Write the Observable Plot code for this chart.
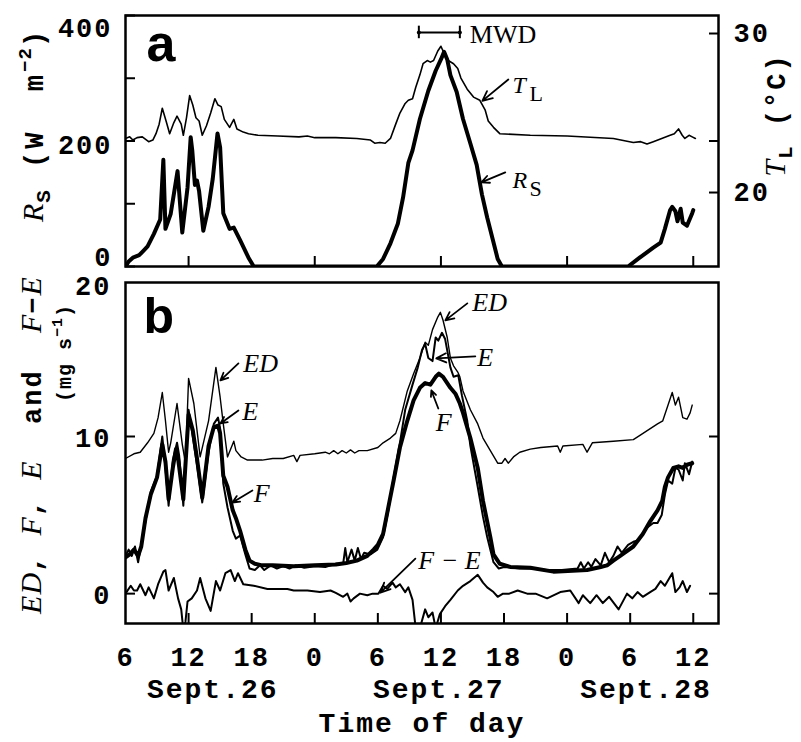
<!DOCTYPE html>
<html>
<head>
<meta charset="utf-8">
<script src="https://cdn.jsdelivr.net/npm/d3@7"></script>
<script src="https://cdn.jsdelivr.net/npm/@observablehq/plot@0.6"></script>
<style>
  body { margin: 0; background: #fff; }
  #wrap { position: relative; width: 801px; height: 742px; overflow: hidden; background: #fff; }
  #wrap svg { position: absolute; left: 0; }
  svg g[aria-label="x-axis tick label"], svg g[aria-label="y-axis tick label"], svg g[aria-description="mono"] { letter-spacing: 2px; }
  .ttl { position: absolute; white-space: nowrap; transform: translate(-50%, -50%) rotate(-90deg);
         font-family: "Liberation Mono"; font-weight: bold; font-size: 27px; letter-spacing: 2px; line-height: 1; color: #000; }
  .ttl i { font-family: "Liberation Serif"; font-style: italic; font-weight: normal; font-size: 30px; letter-spacing: 1px; }
  .ttl .sub { font-size: 21px; vertical-align: -7px; }
  .ttl .sup { font-size: 19px; vertical-align: 12px; letter-spacing: 1px; }
  .ttl.wide { letter-spacing: 3px; }
  .ttl.small { font-size: 20px; letter-spacing: 1px; }
  .ttl.small .sup { font-size: 15px; vertical-align: 9px; }
</style>
</head>
<body>
<div id="wrap"></div>
<script>
// ---------- axes / ticks ----------
const xDomain = [6, 62.4];
const hourTicksA = [12, 24, 36, 48, 60];
const hourTicksB = [6, 12, 18, 24, 30, 36, 42, 48, 54, 60];
const rsTicks = [0, 100, 200, 300, 400];
const tlTicks = [20, 30];
const fluxTicks = [0, 10];
const dayLabels = ["Sept.26", "Sept.27", "Sept.28"];
const dayCenters = [14.3, 35.8, 55.5];

// ---------- panel a: solar radiation Rs (W m-2) ----------
const rs = [[6.0,0],[6.3,8],[6.7,14],[7.3,18],[7.7,25],[8.1,32],[8.7,52],[9.3,75],[9.6,170],[9.8,60],[10.3,84],[10.95,152],[11.4,54],[11.9,126],[12.2,206],[12.35,185],[12.6,130],[12.8,137],[13.0,120],[13.4,57],[13.9,95],[14.3,140],[14.75,212],[15.0,190],[15.2,120],[15.3,85],[15.9,60],[16.3,62],[16.9,42],[17.7,14],[18.2,0],
  [29.9,0],[30.5,12],[31.2,37],[31.9,68],[32.4,110],[32.9,165],[33.3,185],[34.0,235],[34.8,280],[35.5,312],[36.0,330],[36.3,342],[36.6,330],[36.9,305],[37.5,278],[38.1,235],[38.8,196],[39.4,162],[39.9,115],[40.4,78],[40.9,45],[41.4,12],[41.8,0],
  [53.8,0],[54.9,14],[56.2,30],[56.9,38],[57.3,60],[57.8,90],[58.0,95],[58.3,88],[58.5,72],[58.8,92],[59.0,70],[59.4,65],[59.9,85],[60.0,90]];

// ---------- panel a: leaf temperature TL (deg C) ----------
const tl = [[6.0,23.4],[6.4,23.5],[6.7,23.3],[7.1,23.45],[7.6,23.5],[8.2,23.2],[8.6,23.3],[8.9,23.7],[9.2,24.3],[9.5,25.3],[9.9,24.4],[10.2,23.7],[10.6,24.4],[10.9,24.8],[11.3,24.3],[11.5,23.6],[11.8,24.7],[12.1,26.1],[12.4,25.5],[12.7,24.7],[13.0,24.5],[13.3,23.6],[13.7,24.2],[14.1,25.0],[14.5,25.9],[14.8,25.5],[15.1,25.4],[15.4,24.6],[15.9,24.1],[16.3,24.6],[16.6,24.0],[17.2,23.8],[17.7,23.7],[18.6,23.6],[20.5,23.55],[22.5,23.5],[23.3,23.55],[24.0,23.45],[26.0,23.45],[28.0,23.4],[29.3,23.3],[29.7,23.1],[30.2,23.15],[30.7,23.1],[31.2,23.4],[31.7,24.3],[32.1,25.0],[32.6,25.6],[32.9,25.8],[33.3,25.9],[33.6,26.6],[34.0,27.4],[34.3,28.1],[34.7,28.3],[35.0,28.2],[35.3,28.3],[35.7,28.9],[36.0,29.2],[36.2,28.9],[36.7,28.3],[37.2,28.1],[37.6,27.8],[37.9,27.2],[38.5,26.5],[39.1,26.0],[39.7,25.8],[40.2,25.2],[40.5,24.5],[41.0,24.1],[41.6,23.7],[44.5,23.6],[48.0,23.55],[52.4,23.4],[54.3,23.15],[55.0,23.2],[55.6,23.05],[56.2,23.2],[57.0,23.4],[57.8,23.6],[58.2,23.7],[58.6,24.0],[58.95,23.6],[59.2,23.4],[59.6,23.6],[59.9,23.5],[60.2,23.4]];

// ---------- panel b: fluxes (mg s-1) ----------
const ed = [[6.0,8.6],[6.8,8.9],[7.4,9.0],[8.1,9.6],[8.7,10.2],[9.1,11.2],[9.5,12.8],[9.8,11.0],[10.1,9.0],[10.3,9.6],[10.9,12.1],[11.4,9.5],[11.7,8.3],[12.0,13.7],[12.5,12.1],[13.1,8.7],[13.9,11.0],[14.6,14.4],[15.0,12.5],[15.3,10.8],[15.7,8.7],[16.3,9.7],[16.5,9.1],[17.0,8.7],[17.6,8.5],[18.2,8.5],[19.0,8.5],[20.0,8.6],[21.0,8.6],[22.0,8.8],[22.3,8.4],[22.6,8.8],[24.0,8.9],[25.0,9.0],[25.4,8.9],[25.8,9.1],[26.2,8.9],[26.6,9.1],[27.0,8.95],[27.4,9.15],[27.8,8.95],[28.2,9.1],[29.0,9.1],[30.0,9.3],[30.5,9.6],[31.2,9.9],[31.7,10.2],[32.1,11.0],[32.8,12.9],[33.4,14.0],[34.0,15.0],[34.5,16.0],[34.8,15.8],[35.2,16.8],[35.7,17.6],[35.95,17.9],[36.2,17.4],[36.6,16.3],[36.9,15.0],[37.2,14.5],[37.6,14.1],[37.8,13.8],[38.1,12.9],[38.8,11.7],[39.5,10.8],[40.0,9.9],[40.7,9.1],[41.4,8.3],[41.8,8.3],[42.1,8.6],[42.4,8.3],[42.9,8.7],[43.5,9.0],[44.5,9.2],[45.5,9.3],[47.1,9.4],[47.35,9.0],[47.6,9.4],[49.5,9.5],[49.9,9.0],[50.4,9.6],[52.4,9.7],[54.3,9.8],[55.0,10.1],[56.6,10.8],[57.1,11.0],[58.0,12.8],[58.3,12.0],[58.6,12.5],[59.0,11.2],[59.4,11.1],[59.7,11.5],[59.9,12.0]];

const e = [[6.0,2.4],[6.3,2.8],[6.6,2.4],[6.9,3.0],[7.2,2.0],[7.5,3.1],[7.9,4.6],[8.4,6.5],[9.0,7.5],[9.5,10.0],[9.8,8.0],[10.1,5.6],[10.5,8.5],[10.9,9.6],[11.1,8.8],[11.5,5.6],[12.0,11.7],[12.4,10.0],[12.8,8.2],[13.3,5.8],[13.9,9.0],[14.4,10.8],[14.8,11.2],[15.0,10.5],[15.3,7.0],[15.7,5.5],[16.2,4.0],[16.5,3.5],[16.9,3.7],[17.4,2.5],[17.8,1.6],[18.3,1.5],[18.8,1.8],[19.2,1.5],[19.8,1.8],[20.4,1.6],[21.0,1.75],[21.6,1.6],[22.2,1.8],[23.0,1.65],[24.0,1.75],[25.0,1.7],[26.0,1.9],[26.7,1.9],[26.9,2.9],[27.1,2.0],[27.5,2.8],[27.8,2.1],[28.1,2.9],[28.4,2.2],[28.7,2.6],[29.3,2.5],[29.95,2.8],[30.5,3.6],[31.0,5.3],[31.5,7.4],[32.1,9.6],[32.6,11.7],[33.3,13.3],[33.8,14.4],[34.2,15.5],[34.5,15.9],[34.8,15.0],[35.2,14.8],[35.5,16.3],[35.75,16.1],[36.1,16.6],[36.4,16.2],[36.9,14.4],[37.2,13.8],[37.65,13.9],[38.0,12.6],[38.5,11.0],[38.8,9.4],[39.5,6.8],[40.0,4.9],[40.4,3.6],[40.7,2.8],[41.0,2.0],[41.5,1.6],[42.0,1.7],[43.5,1.6],[44.5,1.6],[46.0,1.5],[47.5,1.5],[49.0,1.6],[49.3,2.0],[49.6,1.6],[50.0,2.0],[50.3,1.7],[50.7,2.2],[51.2,1.8],[51.6,2.6],[52.0,2.0],[52.4,2.4],[52.8,3.0],[53.2,2.6],[53.8,3.1],[54.3,3.3],[54.8,3.4],[55.6,4.2],[56.2,4.5],[56.6,4.5],[57.0,5.0],[57.3,6.3],[57.6,7.2],[58.0,7.0],[58.3,8.0],[58.6,7.9],[59.0,7.2],[59.2,8.3],[59.6,7.6],[59.9,8.4]];

const f = [[6.0,2.3],[6.4,2.5],[6.8,2.8],[7.2,2.4],[7.5,3.0],[7.9,4.8],[8.4,6.3],[9.0,7.4],[9.5,9.5],[9.8,8.4],[10.1,6.0],[10.5,8.0],[10.8,9.2],[11.0,8.6],[11.5,6.0],[12.0,11.4],[12.4,10.4],[12.8,8.6],[13.3,6.1],[13.9,9.4],[14.4,10.6],[14.8,10.7],[15.0,10.2],[15.3,7.5],[15.7,6.8],[16.2,5.3],[16.5,4.8],[16.9,4.0],[17.4,2.8],[17.8,2.1],[18.3,1.9],[19.0,1.8],[20.0,1.8],[22.0,1.75],[24.0,1.8],[26.0,1.85],[27.0,1.95],[28.0,2.1],[29.0,2.4],[29.6,2.8],[30.0,3.1],[30.5,3.8],[31.0,5.5],[31.5,7.2],[32.1,9.3],[32.8,11.0],[33.4,12.3],[34.0,13.1],[34.5,13.4],[35.0,13.3],[35.5,13.8],[35.8,14.0],[36.2,13.8],[36.9,13.1],[37.4,12.7],[37.8,12.1],[38.1,11.5],[38.8,9.9],[39.5,8.0],[40.0,5.9],[40.7,3.6],[41.0,2.5],[41.6,1.9],[42.6,1.7],[44.5,1.65],[46.7,1.4],[49.9,1.5],[51.2,1.7],[51.8,1.8],[52.4,2.1],[53.05,2.4],[54.3,3.0],[55.2,3.8],[55.9,4.6],[56.6,5.3],[57.05,5.9],[57.3,6.8],[57.6,7.4],[58.1,8.0],[58.6,8.1],[59.0,8.0],[59.4,8.2],[59.9,8.3]];

const fMinusE = [[6.0,0.0],[6.5,0.5],[6.8,0.2],[7.1,0.2],[7.4,0.6],[7.9,-0.1],[8.2,0.4],[8.7,-0.3],[9.1,0.6],[9.6,1.4],[9.8,1.5],[10.1,0.2],[10.6,1.0],[11.0,-0.3],[11.3,-1.0],[11.5,-2.3],[11.7,-1.8],[11.9,-0.5],[12.3,-0.3],[12.8,0.2],[13.1,1.0],[13.6,-0.3],[14.1,-1.1],[14.6,0.8],[15.0,0.2],[15.5,1.3],[16.0,1.5],[16.4,0.8],[16.7,1.3],[17.2,0.6],[18.2,0.5],[19.5,0.3],[21.4,0.3],[22.0,0.2],[23.3,0.2],[24.5,0.1],[25.5,0.2],[26.0,0.05],[26.7,-0.2],[27.1,0.0],[27.4,-0.5],[27.7,-0.3],[28.3,0.0],[29.0,-0.1],[29.5,0.0],[30.05,0.0],[30.5,0.5],[30.9,0.3],[31.4,0.7],[31.7,0.4],[32.1,0.6],[32.6,0.1],[32.9,0.4],[33.3,-0.4],[33.6,-2.2],[34.0,-2.2],[34.5,-1.0],[34.8,-1.5],[35.2,-1.2],[35.5,-2.2],[35.9,-1.3],[36.4,-0.8],[36.9,-0.4],[37.6,0.2],[38.1,0.5],[38.8,0.8],[39.5,1.2],[39.7,1.0],[40.0,0.7],[40.4,0.4],[41.0,0.1],[41.4,-0.2],[41.9,0.0],[42.5,0.0],[43.3,0.2],[44.2,0.0],[45.0,0.0],[46.1,-0.3],[47.35,0.1],[48.3,0.2],[49.1,-0.6],[49.5,-0.1],[50.2,-0.6],[50.8,-0.1],[51.4,-0.6],[52.0,-0.2],[52.9,-1.0],[53.7,0.0],[54.2,-0.3],[54.7,0.1],[55.2,-0.2],[55.9,0.1],[56.4,0.3],[56.9,0.8],[57.3,0.5],[58.0,1.3],[58.3,0.1],[58.7,0.4],[59.0,0.8],[59.4,0.1],[59.7,0.5]];

// ---------- annotations (data coordinates) ----------
const calloutsA = [
  {label: "T", sub: "L", h: 42.8, v: 288, h0: 42.41, v0: 298, h1: 39.94, v1: 264},
  {label: "R", sub: "S", h: 42.8, v: 137, h0: 42.12, v0: 150, h1: 39.84, v1: 134}
];
const mwd = [{start: 33.9, end: 37.8, level: 373, label: "MWD"}];
const calloutsB = [
  {label: "ED", h: 17.2, v: 14.65, h0: 16.74, v0: 14.65, h1: 15.03, v1: 13.57},
  {label: "E", h: 17.1, v: 11.6, h0: 16.74, v0: 11.66, h1: 15.03, v1: 10.83},
  {label: "F", h: 18.2, v: 6.37, h0: 18.07, v0: 6.56, h1: 16.17, v1: 5.8},
  {label: "ED", h: 38.98, v: 18.5, h0: 38.51, v0: 18.47, h1: 36.42, v1: 17.39},
  {label: "E", h: 39.46, v: 15.0, h0: 39.27, v0: 15.1, h1: 35.56, v1: 14.97},
  {label: "F", h: 35.5, v: 10.9, h0: 35.75, v0: 11.78, h1: 35.09, v1: 12.93},
  {label: "F − E", h: 33.85, v: 2.1, h0: 33.57, v0: 2.23, h1: 30.24, v1: 0.06}
];

// ---------- helpers ----------
const rsEq = t => 117.9 + 25.34 * (t - 20);   // right-axis TL mapped to Rs scale
const tlOf = r => (r - 117.9) / 25.34 + 20;
const H = d => d[0], V = d => d[1];
const blank = () => "";
const baseStyle = {fontFamily: "Liberation Mono", fontWeight: "bold", fontSize: "27px", color: "black", background: "white", overflow: "visible"};
const serifIt = {fontFamily: "Liberation Serif", fontStyle: "italic", fontWeight: "normal"};

const wrap = document.getElementById("wrap");

// ---------- panel a ----------
const plotA = Plot.plot({
  width: 801, height: 272,
  marginLeft: 125, marginRight: 83, marginTop: 15, marginBottom: 6,
  x: {domain: xDomain, axis: null},
  y: {domain: [0, 400], axis: null},
  style: baseStyle,
  marks: [
    Plot.axisX({ticks: hourTicksA, tickSize: -10, tickFormat: blank, strokeWidth: 2, label: null}),
    Plot.axisY({anchor: "left", ticks: rsTicks, tickSize: -10, tickFormat: blank, strokeWidth: 2, label: null}),
    Plot.axisY({anchor: "right", ticks: [...tlTicks.map(rsEq), 200], tickSize: -10, tickFormat: blank, strokeWidth: 2, label: null}),
    Plot.axisY({anchor: "left", ticks: [rsTicks[0]], tickSize: 0, tickPadding: 13, dy: -9, label: null}),
    Plot.axisY({anchor: "left", ticks: [rsTicks[2]], tickSize: 0, tickPadding: 13, dy: 4, label: null}),
    Plot.axisY({anchor: "left", ticks: [rsTicks[4]], tickSize: 0, tickPadding: 13, dy: 13, label: null}),
    Plot.axisY({anchor: "right", ticks: tlTicks.map(rsEq), tickSize: 0, tickPadding: 15, label: null,
                tickFormat: d => String(Math.round(tlOf(d)))}),
    Plot.line(tl, {x: H, y: d => rsEq(d[1]), stroke: "black", strokeWidth: 1.6, clip: true}),
    Plot.line(rs, {x: H, y: V, stroke: "black", strokeWidth: 4, strokeLinejoin: "round", clip: true}),
    Plot.frame({stroke: "black", strokeWidth: 2.5}),
    // panel letter
    Plot.text(["a"], {frameAnchor: "top-left", dx: 21, dy: 29, textAnchor: "start", lineAnchor: "middle",
                      fontFamily: "Liberation Sans", fontWeight: "bold", fontSize: 52}),
    // callouts
    Plot.arrow(calloutsA, {x1: "h0", y1: "v0", x2: "h1", y2: "v1", stroke: "black", strokeWidth: 1.8, headLength: 9, headAngle: 50}),
    Plot.text(calloutsA, {x: "h", y: "v", text: "label", textAnchor: "start", lineAnchor: "middle", fontSize: 24, ...serifIt}),
    Plot.text(calloutsA, {x: "h", y: "v", text: "sub", textAnchor: "start", lineAnchor: "middle", dx: 17, dy: 8,
                          fontFamily: "Liberation Serif", fontWeight: "normal", fontSize: 22}),
    // MWD bar
    Plot.ruleY(mwd, {y: "level", x1: "start", x2: "end", stroke: "black", strokeWidth: 2}),
    Plot.ruleX(mwd.flatMap(d => [d.start, d.end]), {x: d => d, y1: mwd[0].level - 10, y2: mwd[0].level + 10, stroke: "black", strokeWidth: 2}),
    Plot.dot(mwd.flatMap(d => [d.start, d.end]), {x: d => d, y: mwd[0].level, r: 2, fill: "black", stroke: null}),
    Plot.text(mwd, {x: "end", y: "level", text: "label", dx: 10, dy: 2, textAnchor: "start", lineAnchor: "middle",
                    fontFamily: "Liberation Serif", fontWeight: "normal", fontSize: 26})
  ]
});
plotA.style.top = "0px";
wrap.appendChild(plotA);

// ---------- panel b ----------
const plotB = Plot.plot({
  width: 801, height: 470,
  marginLeft: 125, marginRight: 83, marginTop: 10, marginBottom: 119,
  x: {domain: xDomain, axis: null},
  y: {domain: [-1.9, 19.8], axis: null},
  style: baseStyle,
  marks: [
    Plot.axisX({ticks: hourTicksB.slice(1), tickSize: -10, tickFormat: blank, strokeWidth: 2, label: null}),
    Plot.axisX({ticks: hourTicksB, tickSize: 0, tickPadding: 23, tickFormat: d => String(d % 24), label: null}),
    Plot.axisY({anchor: "left", ticks: fluxTicks, tickSize: -10, tickFormat: blank, strokeWidth: 2, label: null}),
    Plot.axisY({anchor: "right", ticks: fluxTicks, tickSize: -10, tickFormat: blank, strokeWidth: 2, label: null}),
    Plot.axisY({anchor: "left", ticks: fluxTicks, tickSize: 0, tickPadding: 14, dy: 2, label: null}),
    Plot.axisY({anchor: "left", ticks: [20], tickSize: 0, tickPadding: 14, dy: 7, label: null}),
    Plot.line(ed, {x: H, y: V, stroke: "black", strokeWidth: 1.4, clip: true}),
    Plot.line(fMinusE, {x: H, y: V, stroke: "black", strokeWidth: 2, clip: true}),
    Plot.line(f, {x: H, y: V, stroke: "black", strokeWidth: 4, strokeLinejoin: "round", clip: true}),
    Plot.line(e, {x: H, y: V, stroke: "black", strokeWidth: 2, clip: true}),
    Plot.frame({stroke: "black", strokeWidth: 2.5}),
    Plot.text(["b"], {frameAnchor: "top-left", dx: 18, dy: 34, textAnchor: "start", lineAnchor: "middle",
                      fontFamily: "Liberation Sans", fontWeight: "bold", fontSize: 50}),
    Plot.arrow(calloutsB, {x1: "h0", y1: "v0", x2: "h1", y2: "v1", stroke: "black", strokeWidth: 1.8, headLength: 9, headAngle: 50}),
    Plot.text(calloutsB, {x: "h", y: "v", text: "label", textAnchor: "start", lineAnchor: "middle", fontSize: 26, ...serifIt}),
    // date labels and axis title
    Plot.text(dayLabels, {x: (d, i) => dayCenters[i], text: d => d, frameAnchor: "bottom", dy: 66, lineAnchor: "middle",
                          fontSize: 28, ariaDescription: "mono"}),
    Plot.text(["Time of day"], {frameAnchor: "bottom", dy: 100, lineAnchor: "middle", fontSize: 28, ariaDescription: "mono"})
  ]
});
plotB.style.top = "272px";
wrap.appendChild(plotB);

// ---------- rotated axis titles ----------
function title(html, left, top, cls) {
  const d = document.createElement("div");
  d.className = "ttl" + (cls ? " " + cls : "");
  d.style.left = left + "px";
  d.style.top = top + "px";
  d.innerHTML = html;
  wrap.appendChild(d);
}
title('<i>R</i><span class="sub">S</span>&nbsp;(W&nbsp;&nbsp;m<span class="sup">−2</span>)', 36, 125, "wide");
title('<i>T</i><span class="sub">L</span>&nbsp;(°C)', 778, 115);
title('<i>ED</i>,&nbsp;<i>F</i>,&nbsp;<i>E</i>&nbsp; and &nbsp;<i>F</i>−<i>E</i>', 32, 445);
title('(mg&nbsp;s<span class="sup">−1</span>)', 63, 353, "small");
</script>
</body>
</html>
